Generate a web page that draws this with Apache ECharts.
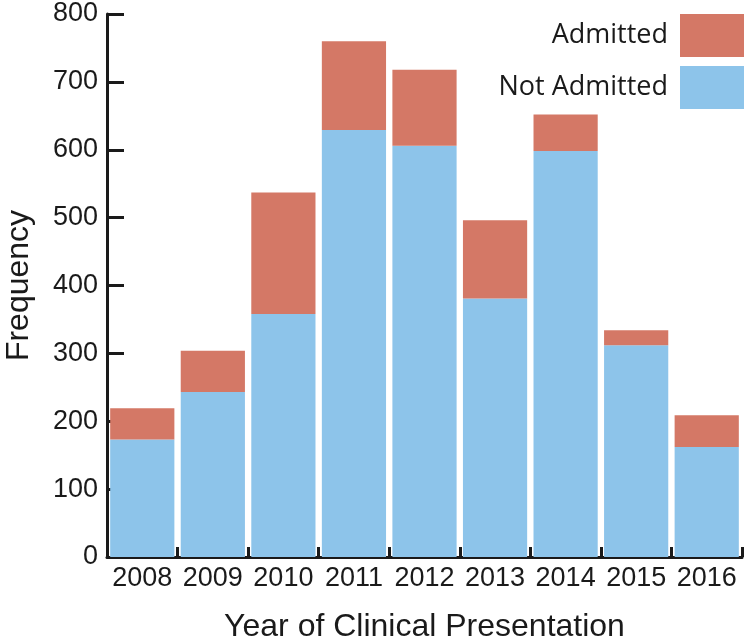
<!DOCTYPE html>
<html>
<head>
<meta charset="utf-8">
<script src="https://cdn.jsdelivr.net/npm/echarts@6/dist/echarts.min.js"></script>
<style>html,body{margin:0;padding:0;background:#fff}#c{width:750px;height:641px}</style>
</head>
<body>
<div id="c"></div>
<script>
var years = ['2008','2009','2010','2011','2012','2013','2014','2015','2016'];
var notAdmitted = [173, 243, 358, 629, 606, 381, 598, 312, 162];
var admitted = [46, 61, 179, 131, 112, 115, 54, 22, 47];
var yTicks = [0, 100, 200, 300, 400, 500, 600, 700, 800];

var chart = echarts.init(document.getElementById('c'), null, {renderer: 'canvas'});
var axisFont = 'Liberation Sans, Arial, sans-serif';
chart.setOption({
  animation: false,
  backgroundColor: '#ffffff',
  grid: {left: 107, right: 8, top: 14, bottom: 84, containLabel: false, outerBoundsMode: 'none'},
  legend: {
    data: ['Admitted', 'Not Admitted'],
    orient: 'vertical',
    right: 6,
    top: 14,
    padding: 0,
    align: 'right',
    itemWidth: 64,
    itemHeight: 43,
    itemGap: 9,
    icon: 'rect',
    selectedMode: false,
    textStyle: {fontFamily: 'Open Sans, Noto Sans, sans-serif', fontSize: 27, color: '#1a1a1a', padding: [5, 7, 0, 0]}
  },
  xAxis: {
    type: 'category',
    data: years,
    boundaryGap: true,
    axisLine: {lineStyle: {color: '#1a1a1a', width: 3}},
    axisTick: {show: true, inside: true, length: 10, lineStyle: {color: '#1a1a1a', width: 3}},
    axisLabel: {fontFamily: axisFont, fontSize: 27, color: '#1a1a1a', margin: 8, interval: 0},
    name: 'Year of Clinical Presentation',
    nameLocation: 'middle',
    nameGap: 54,
    nameTextStyle: {fontFamily: axisFont, fontSize: 32, color: '#1a1a1a'}
  },
  yAxis: {
    type: 'value',
    min: yTicks[0],
    max: yTicks[yTicks.length - 1],
    interval: yTicks[1] - yTicks[0],
    axisLine: {show: true, lineStyle: {color: '#1a1a1a', width: 3}},
    axisTick: {show: true, inside: true, length: 17, lineStyle: {color: '#1a1a1a', width: 3}},
    splitLine: {show: false},
    axisLabel: {fontFamily: axisFont, fontSize: 27, color: '#1a1a1a', margin: 9},
    name: 'Frequency',
    nameLocation: 'middle',
    nameGap: 72,
    nameTextStyle: {fontFamily: axisFont, fontSize: 32, color: '#1a1a1a'}
  },
  series: [
    {
      name: 'Not Admitted',
      type: 'bar',
      stack: 'total',
      data: notAdmitted,
      barCategoryGap: '9%',
      itemStyle: {color: '#8dc4ea'}
    },
    {
      name: 'Admitted',
      type: 'bar',
      stack: 'total',
      data: admitted,
      barCategoryGap: '9%',
      itemStyle: {color: '#d47866'}
    }
  ]
});
</script>
</body>
</html>
